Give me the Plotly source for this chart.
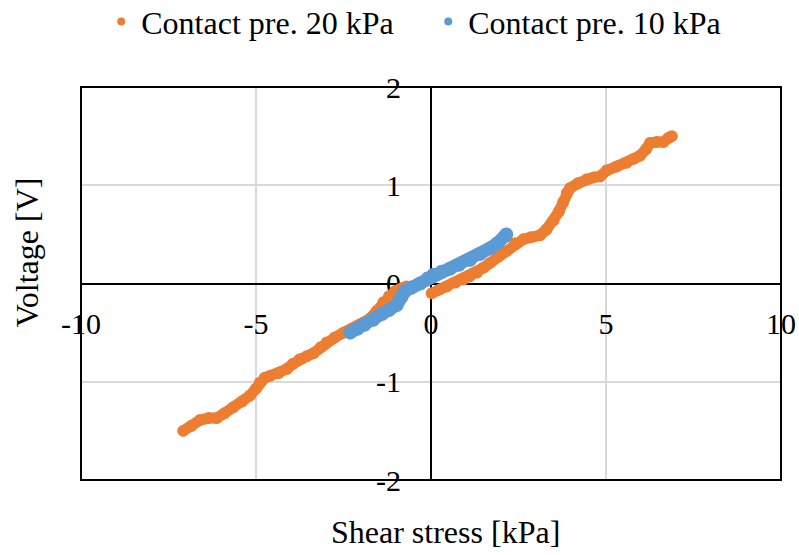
import plotly.graph_objects as go

# Shear stress [kPa] and voltage [V], contact pressure 20 kPa
# (negative branch, then positive branch; None separates them)
stress_20 = [-7.08, -6.85, -6.60, -6.35, -6.12, -5.90, -5.65, -5.40, -5.17, -5.00,
             -4.89, -4.75, -4.60, -4.35, -4.12, -3.95, -3.75, -3.55, -3.36, -3.15,
             -2.98, -2.75, -2.50, -2.25, -2.00, -1.75, -1.55, -1.36, -1.20, -1.03,
             -0.85, -0.70, None,
             0.02, 0.25, 0.45, 0.70, 0.92, 1.10, 1.31, 1.50, 1.69, 1.90,
             2.16, 2.40, 2.64, 2.85, 3.11, 3.30, 3.50, 3.65, 3.78, 3.88,
             3.97, 4.20, 4.45, 4.64, 4.83, 5.02, 5.30, 5.59, 5.80, 5.97,
             6.15, 6.26, 6.45, 6.64, 6.78, 6.88]
voltage_20 = [-1.50, -1.45, -1.39, -1.37, -1.37, -1.32, -1.26, -1.20, -1.14, -1.07,
              -1.01, -0.96, -0.94, -0.91, -0.87, -0.82, -0.77, -0.74, -0.71, -0.65,
              -0.60, -0.55, -0.50, -0.46, -0.42, -0.36, -0.28, -0.19, -0.13, -0.08,
              -0.05, -0.03, None,
              -0.10, -0.06, -0.03, 0.01, 0.04, 0.07, 0.11, 0.16, 0.21, 0.27,
              0.33, 0.41, 0.45, 0.47, 0.49, 0.55, 0.64, 0.73, 0.83, 0.92,
              0.97, 1.02, 1.06, 1.08, 1.09, 1.15, 1.19, 1.23, 1.27, 1.30,
              1.37, 1.43, 1.44, 1.44, 1.48, 1.50]

# Contact pressure 10 kPa
stress_10 = [-2.31, -2.10, -1.90, -1.65, -1.40, -1.20, -0.98, -0.85, -0.75, -0.55,
             -0.31, -0.10, 0.07, 0.30, 0.54, 0.80, 1.11, 1.40, 1.69, 1.90, 2.11, 2.15]
voltage_10 = [-0.50, -0.46, -0.42, -0.37, -0.31, -0.27, -0.22, -0.14, -0.08, -0.04,
              0.00, 0.05, 0.09, 0.12, 0.15, 0.19, 0.24, 0.30, 0.36, 0.41, 0.48, 0.50]

x_ticks = [-10, -5, 0, 5, 10]
x_tick_text = ["-10", "-5", "0", "5", "10"]
y_ticks = [-2, -1, 0, 1, 2]
y_tick_text = ["-2", "-1", "0", "1", "2"]

ORANGE = "#ED7D31"
BLUE = "#5B9BD5"
FONT = "Liberation Serif"

fig = go.Figure()
fig.add_trace(go.Scatter(
    x=stress_20, y=voltage_20, name="Contact pre. 20 kPa", showlegend=False,
    mode="lines+markers", connectgaps=False,
    line=dict(color=ORANGE, width=11),
    marker=dict(color=ORANGE, size=12),
))
fig.add_trace(go.Scatter(
    x=stress_10, y=voltage_10, name="Contact pre. 10 kPa", showlegend=False,
    mode="lines+markers",
    line=dict(color=BLUE, width=13),
    marker=dict(color=BLUE, size=14),
))
# legend entries: plain dots
for name, color in [("Contact pre. 20 kPa", ORANGE), ("Contact pre. 10 kPa", BLUE)]:
    fig.add_trace(go.Scatter(x=[None], y=[None], name=name, mode="markers",
                             marker=dict(color=color, size=8)))

axis_common = dict(
    showgrid=True, gridcolor="#d9d9d9", gridwidth=2,
    zeroline=False, showline=True, linecolor="black", linewidth=2,
    ticks="", layer="below traces", automargin=False,
    tickfont=dict(family=FONT, size=30, color="black"),
    anchor="free", position=0.5, fixedrange=True,
)
fig.update_xaxes(range=[-10, 10], tickvals=x_ticks, ticktext=x_tick_text,
                 ticklabelstandoff=13, **axis_common)
fig.update_yaxes(range=[-2, 2], tickvals=y_ticks, ticktext=y_tick_text,
                 ticklabelstandoff=23, **axis_common)

# plot-area border
fig.add_shape(type="rect", xref="x domain", yref="y domain",
              x0=0, x1=1, y0=0, y1=1, line=dict(color="black", width=2))

fig.add_annotation(text="Shear stress [kPa]", xref="paper", yref="paper",
                   x=0.52, y=-0.133, yanchor="middle", showarrow=False,
                   font=dict(family=FONT, size=32, color="black"))
fig.add_annotation(text="Voltage [V]", xref="paper", yref="paper",
                   x=-0.077, y=0.58, xanchor="center", yanchor="middle",
                   textangle=-90, showarrow=False,
                   font=dict(family=FONT, size=32, color="black"))

fig.update_layout(
    width=799, height=555,
    margin=dict(l=81, r=18, t=87, b=75, autoexpand=False),
    paper_bgcolor="white", plot_bgcolor="white",
    font=dict(family=FONT, size=30, color="black"),
    showlegend=True,
    legend=dict(orientation="h", xref="container", yref="container",
                x=0.536, xanchor="center", y=0.961, yanchor="middle",
                font=dict(family=FONT, size=32, color="black"),
                entrywidth=282, bgcolor="rgba(0,0,0,0)"),
)

fig.write_html("out.html")
